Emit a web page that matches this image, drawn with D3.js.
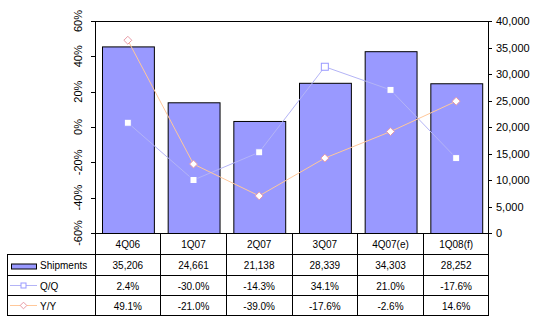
<!DOCTYPE html>
<html><head><meta charset="utf-8">
<script src="https://cdn.jsdelivr.net/npm/d3@7"></script>
<style>body{margin:0;background:#fff;} text{font-family:"Liberation Sans",Arial,sans-serif;font-size:11px;fill:#000;} text.tb{font-size:10px;}</style>
</head><body>
<script>
const categories = ["4Q06","1Q07","2Q07","3Q07","4Q07(e)","1Q08(f)"];
const shipments = [35206,24661,21138,28339,34303,28252];
const qoq = [2.4,-30.0,-14.3,34.1,21.0,-17.6];
const yoy = [49.1,-21.0,-39.0,-17.6,-2.6,14.6];
const leftTicks = [-60,-40,-20,0,20,40,60];
const rightTicks = [0,5000,10000,15000,20000,25000,30000,35000,40000];
const seriesNames = ["Shipments","Q/Q","Y/Y"];

const W=538,H=322;
const L=95,R=489,T=21,B=233;
const rowH=[233,254,275,295,315];
const svg=d3.select("body").append("svg").attr("width",W).attr("height",H);

const x=d3.scaleBand().domain(categories).range([L,R]);
const yL=d3.scaleLinear().domain([-60,60]).range([B,T]);
const yR=d3.scaleLinear().domain([0,40000]).range([B,T]);
const bw=x.bandwidth();

// bars
svg.selectAll("rect.bar").data(categories).enter().append("rect")
 .attr("x",d=>x(d)+7.5).attr("width",bw*0.79)
 .attr("y",(d,i)=>yR(shipments[i])+0.5).attr("height",(d,i)=>B-yR(shipments[i]))
 .attr("fill","#9999FF").attr("stroke","#000").attr("stroke-width",1);

// plot frame
svg.append("rect").attr("x",L+0.5).attr("y",T+0.5).attr("width",R-L-1).attr("height",B-T)
 .attr("fill","none").attr("stroke","#000");

// left axis
leftTicks.forEach(t=>{
  const y=Math.round(yL(t))+0.5;
  svg.append("line").attr("x1",L-4).attr("x2",L).attr("y1",y).attr("y2",y).attr("stroke","#000");
  svg.append("text").attr("transform",`translate(82,${yL(t)}) rotate(-90)`)
   .attr("text-anchor","middle").text(t+"%");
});
// right axis
rightTicks.forEach(t=>{
  const y=Math.round(yR(t))+0.5;
  svg.append("line").attr("x1",R-1).attr("x2",R+3).attr("y1",y).attr("y2",y).attr("stroke","#000");
  svg.append("text").attr("x",496).attr("y",yR(t)+4).text(d3.format(",")(t));
});

const cx=d=>x(d)+bw/2;
// Q/Q line
const lineQ=d3.line().x((d,i)=>cx(categories[i])).y(d=>yL(d));
svg.append("path").datum(qoq).attr("d",lineQ).attr("fill","none").attr("stroke","#b4b4f6").attr("stroke-width",1);
svg.selectAll("rect.q").data(qoq).enter().append("rect")
 .attr("x",(d,i)=>cx(categories[i])-3.5).attr("y",d=>yL(d)-3.5).attr("width",7).attr("height",7)
 .attr("fill","#fff").attr("stroke","#9999FF");
// Y/Y line
const lineY=d3.line().x((d,i)=>cx(categories[i])).y(d=>yL(d));
svg.append("path").datum(yoy).attr("d",lineY).attr("fill","none").attr("stroke","#ffc89a").attr("stroke-width",1);
const diamond=d3.symbol().type(d3.symbolDiamond2).size(40);
svg.selectAll("path.y").data(yoy).enter().append("path")
 .attr("transform",(d,i)=>`translate(${cx(categories[i])},${yL(d)})`)
 .attr("d",diamond).attr("fill","#fff").attr("stroke","#e89aa6");

// table grid
const g=svg.append("g").attr("stroke","#000").attr("shape-rendering","crispEdges");
[1,2,3,4].forEach(k=>g.append("line").attr("x1",7).attr("x2",R).attr("y1",rowH[k]).attr("y2",rowH[k]));
g.append("line").attr("x1",7).attr("x2",7).attr("y1",rowH[1]).attr("y2",rowH[4]);
categories.forEach(c=>g.append("line").attr("x1",x(c)).attr("x2",x(c)).attr("y1",B).attr("y2",rowH[4]));
g.append("line").attr("x1",R-0.5).attr("x2",R-0.5).attr("y1",B).attr("y2",rowH[4]);

// header
categories.forEach(c=>svg.append("text").attr("class","tb").attr("x",cx(c)).attr("y",(rowH[0]+rowH[1])/2+4.5).attr("text-anchor","middle").text(c));
const rows=[shipments.map(d3.format(",")),qoq.map(v=>v.toFixed(1)+"%"),yoy.map(v=>v.toFixed(1)+"%")];
rows.forEach((r,k)=>{
  const yc=(rowH[k+1]+rowH[k+2])/2;
  r.forEach((v,i)=>svg.append("text").attr("class","tb").attr("x",cx(categories[i])).attr("y",yc+4.5).attr("text-anchor","middle").text(v));
  svg.append("text").attr("class","tb").attr("x",40).attr("y",yc+4.5).text(seriesNames[k]);
});
// legend keys
let yc=(rowH[1]+rowH[2])/2;
svg.append("rect").attr("x",11.5).attr("y",yc-0.5).attr("width",25).attr("height",5).attr("fill","#9999FF").attr("stroke","#000");
yc=(rowH[2]+rowH[3])/2+0.5;
svg.append("line").attr("x1",10).attr("x2",37).attr("y1",yc).attr("y2",yc).attr("stroke","#b4b4f6");
svg.append("rect").attr("x",21).attr("y",yc-2.5).attr("width",5).attr("height",5).attr("fill","#fff").attr("stroke","#9999FF");
yc=(rowH[3]+rowH[4])/2+0.5;
svg.append("line").attr("x1",10).attr("x2",37).attr("y1",yc).attr("y2",yc).attr("stroke","#ffc89a");
svg.append("path").attr("transform",`translate(23.5,${yc})`).attr("d",d3.symbol().type(d3.symbolDiamond2).size(28)).attr("fill","#fff").attr("stroke","#e89aa6");
</script>
</body></html>
